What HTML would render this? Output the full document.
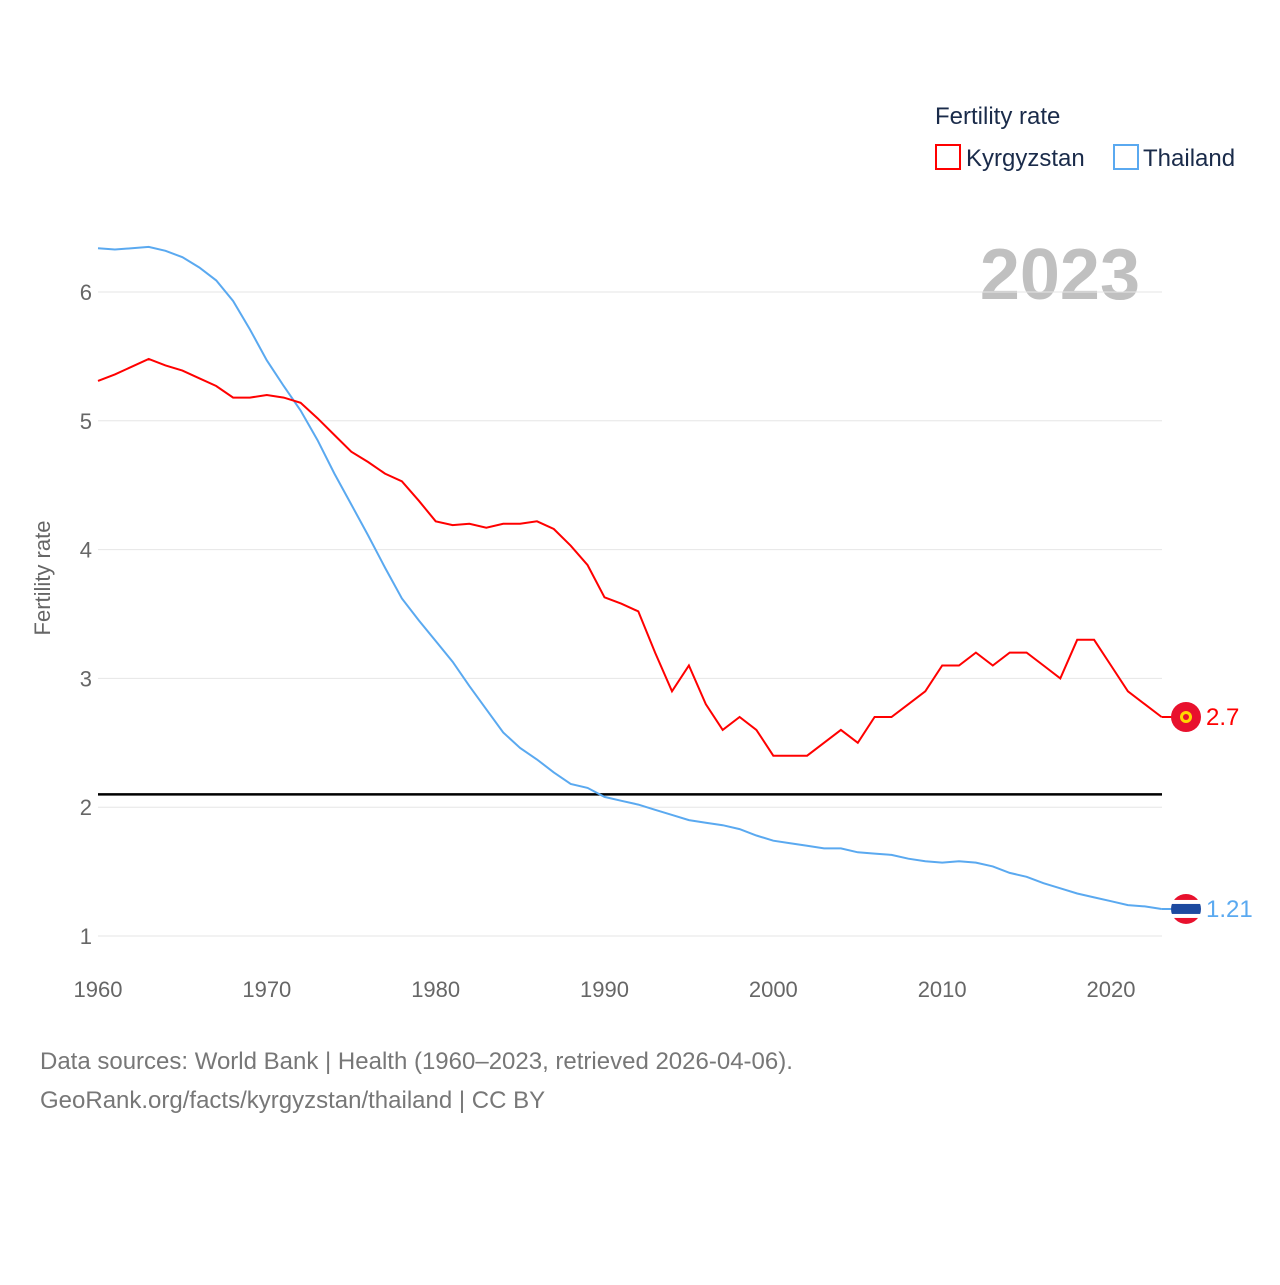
<!DOCTYPE html>
<html><head><meta charset="utf-8">
<style>
html,body{margin:0;padding:0;background:#fff;}
body{width:1280px;height:1280px;overflow:hidden;font-family:"Liberation Sans",sans-serif;}
</style></head>
<body>
<svg id="chart" width="1280" height="1280" xmlns="http://www.w3.org/2000/svg" font-family="Liberation Sans, sans-serif">
<defs><clipPath id="thclip"><circle cx="1186" cy="908.8" r="15"/></clipPath></defs>
<text x="935" y="124" font-size="24" fill="#1a2b4a">Fertility rate</text>
<g>
<rect x="936" y="145" width="24" height="24" fill="none" stroke="#f00" stroke-width="2"/>
<text x="966" y="166" font-size="24" fill="#1a2b4a">Kyrgyzstan</text></g>
<g>
<rect x="1114" y="145" width="24" height="24" fill="none" stroke="#5aa9f0" stroke-width="2"/>
<text x="1143" y="166" font-size="24" fill="#1a2b4a">Thailand</text></g>
<text x="1140" y="299" font-size="72" font-weight="bold" fill="#c0c0c0" text-anchor="end">2023</text>
<text transform="translate(50,578) rotate(-90)" font-size="22" fill="#666" text-anchor="middle">Fertility rate</text>
<g id="grid"></g><g id="lines"></g>
<text x="40" y="1069" font-size="24" fill="#777">Data sources: World Bank | Health (1960–2023, retrieved 2026-04-06).</text>
<text x="40" y="1108" font-size="24" fill="#777">GeoRank.org/facts/kyrgyzstan/thailand | CC BY</text>
</svg>
<script>
const years=[];for(let y=1960;y<=2023;y++)years.push(y);
const kyrgyzstan=[5.31,5.36,5.42,5.48,5.43,5.39,5.33,5.27,5.18,5.18,5.20,5.18,5.14,5.02,4.89,4.76,4.68,4.59,4.53,4.38,4.22,4.19,4.20,4.17,4.20,4.20,4.22,4.16,4.03,3.88,3.63,3.58,3.52,3.20,2.90,3.10,2.80,2.60,2.70,2.60,2.40,2.40,2.40,2.50,2.60,2.50,2.70,2.70,2.80,2.90,3.10,3.10,3.20,3.10,3.20,3.20,3.10,3.00,3.30,3.30,3.10,2.90,2.80,2.70];
const thailand=[6.34,6.33,6.34,6.35,6.32,6.27,6.19,6.09,5.93,5.71,5.47,5.27,5.08,4.85,4.59,4.35,4.11,3.86,3.62,3.45,3.29,3.13,2.94,2.76,2.58,2.46,2.37,2.27,2.18,2.15,2.08,2.05,2.02,1.98,1.94,1.90,1.88,1.86,1.83,1.78,1.74,1.72,1.70,1.68,1.68,1.65,1.64,1.63,1.60,1.58,1.57,1.58,1.57,1.54,1.49,1.46,1.41,1.37,1.33,1.30,1.27,1.24,1.23,1.21];
const yTicks=[1,2,3,4,5,6];
const xTicks=[1960,1970,1980,1990,2000,2010,2020];
const replacement=2.1;
const X=y=>98+(y-1960)*(1013/60);
const Y=v=>936-(v-1)*128.8;
const NS="http://www.w3.org/2000/svg";
function mk(t,a,p){const e=document.createElementNS(NS,t);for(const k in a)e.setAttribute(k,a[k]);p.appendChild(e);return e;}
const grid=document.getElementById('grid'),lines=document.getElementById('lines');
yTicks.forEach(v=>{
 const l=mk('line',{x1:98,x2:1162,y1:Y(v),y2:Y(v),stroke:'#e6e6e6','stroke-width':1},grid);
 
 
 const t=mk('text',{x:92,y:Y(v)+8,'font-size':22,fill:'#666','text-anchor':'end'},grid);t.textContent=v;
 
 
});
xTicks.forEach(v=>{
 const t=mk('text',{x:X(v),y:997,'font-size':22,fill:'#666','text-anchor':'middle'},grid);t.textContent=v;
 
 
});
const rl=mk('line',{x1:98,x2:1162,y1:Y(replacement),y2:Y(replacement),stroke:'#000','stroke-width':2.5},lines);


function series(vals,col,name){
 const p=mk('path',{d:vals.map((v,i)=>(i?'L':'M')+X(years[i]).toFixed(1)+','+Y(v).toFixed(1)).join(''),fill:'none',stroke:col,'stroke-width':2},lines);
 
 
}
series(thailand,'#5aa9f0','thailand');
series(kyrgyzstan,'#f00','kyrgyzstan');
function endLabel(vals,col,name,isTh){
 const v=vals[vals.length-1],cy=Y(v),cx=1186;
 mk('line',{x1:X(2023),x2:cx,y1:cy,y2:cy,stroke:col,'stroke-width':2},lines);
 const g=mk('g',{},lines);
 
 
 if(isTh){
  document.querySelector('#thclip circle').setAttribute('cy',cy);
  g.setAttribute('clip-path','url(#thclip)');
  mk('rect',{x:cx-15,y:cy-15,width:30,height:30,fill:'#fff'},g);
  mk('rect',{x:cx-15,y:cy-15,width:30,height:6,fill:'#e8112d'},g);
  mk('rect',{x:cx-15,y:cy+9,width:30,height:6,fill:'#e8112d'},g);
  mk('rect',{x:cx-15,y:cy-5,width:30,height:10,fill:'#1d4aa0'},g);
 }else{
  mk('circle',{cx:cx,cy:cy,r:15,fill:'#e8112d'},g);
  mk('circle',{cx:cx,cy:cy,r:6,fill:'#ffd700'},g);
  mk('circle',{cx:cx,cy:cy,r:3,fill:'#e8112d'},g);
 }
 const t=mk('text',{x:1206,y:cy+8,'font-size':24,fill:col},lines);t.textContent=v;
 
 
}
endLabel(kyrgyzstan,'#f00','kyrgyzstan',false);
endLabel(thailand,'#5aa9f0','thailand',true);
</script>
</body></html>
